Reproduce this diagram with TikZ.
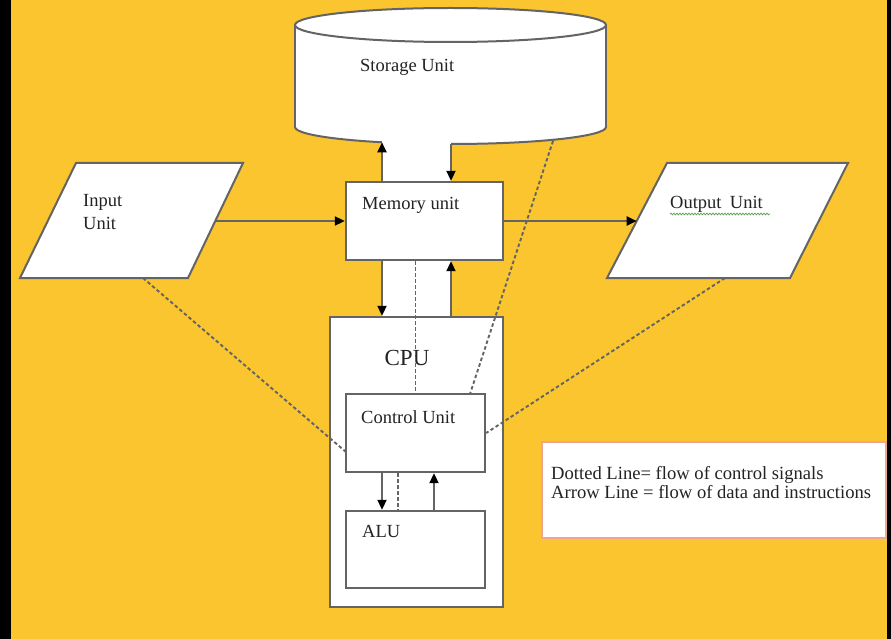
\documentclass[tikz,border=0pt]{standalone}
\usepackage{fontspec}
\setmainfont{Liberation Serif}
\usetikzlibrary{arrows.meta,decorations.pathmorphing}
\definecolor{bgyellow}{RGB}{250,197,46}
\definecolor{edge}{RGB}{100,100,100}
\definecolor{legendedge}{RGB}{240,165,145}
\definecolor{txt}{RGB}{35,35,35}
\definecolor{spell}{RGB}{90,160,80}
\begin{document}
\begin{tikzpicture}[x=1pt,y=-1pt,
  box/.style={draw=edge, line width=2.4pt, fill=white, rectangle, inner sep=0pt},
  shapeline/.style={draw=edge, line width=2pt},
  flow/.style={draw=edge, line width=2pt, -{Triangle[length=10pt,width=9pt,black]}},
  ctrl/.style={draw=edge, line width=1.9pt, dash pattern=on 3.5pt off 2.5pt},
  lbl/.style={font=\fontsize{18.5}{20}\selectfont, text=txt, inner sep=0pt, anchor=west}]
\useasboundingbox (0,0) rectangle (891,639);
\fill[black] (0,0) rectangle (891,639);
\fill[bgyellow] (11,0) rectangle (887,639);

% storage cylinder
\draw[shapeline, fill=white] (450.5,127) ellipse [x radius=155.5, y radius=17];
\fill[white] (295,25) rectangle (606,127);
\draw[shapeline] (295,25) -- (295,127);
\draw[shapeline] (606,25) -- (606,127);
\draw[shapeline, fill=white] (450.5,25) ellipse [x radius=155.5, y radius=17];
\node[lbl] (sto) at (360,67) {Storage Unit};
\coordinate (stoA) at (382,142.3);
\coordinate (stoB) at (451,144);
\coordinate (stoC) at (553,141);

% white bands
\fill[white] (382,140) rectangle (451,183);
\fill[white] (382,259) rectangle (451,318);

% input / output parallelograms
\coordinate (inBL) at (20,278);
\coordinate (inTL) at (76,163);
\coordinate (inTR) at (243,163);
\coordinate (inBR) at (188,278);
\draw[shapeline, fill=white, line join=miter] (inBL) -- (inTL) -- (inTR) -- (inBR) -- cycle;
\node[lbl, align=left, font=\fontsize{18.5}{23}\selectfont, anchor=north west] (inlbl) at (83,194) {Input\\Unit};
\coordinate (inR) at (215.3,221);
\coordinate (inB) at (143,278);

\coordinate (outBL) at (607,278);
\coordinate (outTL) at (667,163);
\coordinate (outTR) at (848,163);
\coordinate (outBR) at (790,278);
\draw[shapeline, fill=white, line join=miter] (outBL) -- (outTL) -- (outTR) -- (outBR) -- cycle;
\node[lbl] (outlbl) at (670,204) {Output\hspace{0.45em}Unit};
\draw[spell, line width=0.7pt, decorate, decoration={snake, amplitude=0.9pt, segment length=3pt}] (670,214) -- (770,214);
\coordinate (outL) at (636.7,221);
\coordinate (outB) at (725,278);

% memory
\node[box, minimum width=157pt, minimum height=78pt] (mem) at (424.5,221) {};
\node[lbl] (memlbl) at (362,205) {Memory unit};

% CPU
\node[box, minimum width=173pt, minimum height=290pt] (cpu) at (416.5,462) {};
\node[font=\fontsize{23}{26}\selectfont, text=txt, inner sep=0pt] (cpulbl) at (407,358) {CPU};
\node[box, minimum width=139pt, minimum height=78pt] (cu) at (415.5,433) {};
\node[lbl] (culbl) at (361,417) {Control Unit};
\node[box, minimum width=139pt, minimum height=77pt] (alu) at (415.5,549.5) {};
\node[lbl] (alulbl) at (362,531) {ALU};

\coordinate (dx) at (398,0);
\coordinate (ux) at (434,0);
\coordinate (cuT) at (470,394);
\coordinate (cuL) at (346,452);

% data arrows
\draw[flow] (inR) -- (mem.west);
\draw[flow] (mem.east) -- (outL);
\draw[flow] (mem.north -| stoA) -- (stoA);
\draw[flow] (stoB) -- (mem.north -| stoB);
\draw[flow] (mem.south -| stoA) -- (cpu.north -| stoA);
\draw[flow] (cpu.north -| stoB) -- (mem.south -| stoB);
\draw[flow] (cu.south -| stoA) -- (alu.north -| stoA);
\draw[flow] (alu.north -| ux) -- (cu.south -| ux);

% control lines
\draw[ctrl] (stoC) -- (cuT);
\draw[ctrl] (mem.south -| cu.north) -- (cu.north);
\draw[ctrl] (inB) -- (cuL);
\draw[ctrl] (outB) -- (cu.east);
\draw[ctrl] (cu.south -| dx) -- (alu.north -| dx);

% legend
\node[draw=legendedge, line width=2.4pt, fill=white, minimum width=344pt, minimum height=96pt, inner sep=0pt] (leg) at (714,490) {};
\node[lbl, align=left, font=\fontsize{18.6}{19}\selectfont] (legtxt) at (551,482.5) {Dotted Line= flow of control signals\\Arrow Line = flow of data and instructions};
\end{tikzpicture}
\end{document}
